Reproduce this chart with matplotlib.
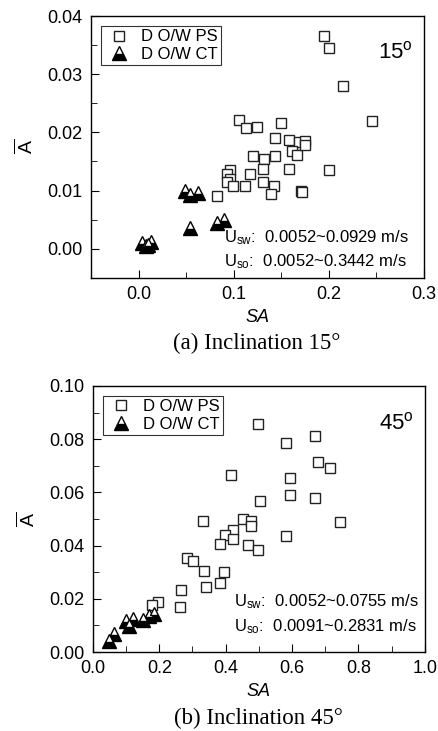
import matplotlib
matplotlib.use("Agg")
import matplotlib.pyplot as plt
from matplotlib.ticker import MultipleLocator

plt.rcParams['font.family'] = ['Liberation Sans', 'DejaVu Sans']
plt.rcParams['mathtext.fontset'] = 'custom'
plt.rcParams['mathtext.rm'] = 'Liberation Sans'
plt.rcParams['mathtext.it'] = 'Liberation Sans:italic'

# inclination 15 deg, pattern-switching (PS) points
ps15_x = [0.1056, 0.1126, 0.124, 0.150, 0.143, 0.158, 0.169, 0.161, 0.167, 0.120,
          0.132, 0.143, 0.131, 0.158, 0.096, 0.0926, 0.117, 0.096, 0.0926, 0.099,
          0.112, 0.131, 0.142, 0.139, 0.0824, 0.171,
          0.195, 0.200, 0.215, 0.245, 0.200, 0.175, 0.175, 0.172]
ps15_y = [0.0221, 0.0208, 0.0209, 0.0217, 0.0191, 0.0187, 0.0184, 0.0168, 0.0161, 0.0159,
          0.0155, 0.0159, 0.0137, 0.0137, 0.0135, 0.0128, 0.0128, 0.0119, 0.0114, 0.0107,
          0.0108, 0.0115, 0.0108, 0.0094, 0.0090, 0.0099,
          0.0365, 0.0345, 0.0280, 0.0220, 0.0135, 0.0185, 0.0178, 0.0098]

# inclination 15 deg, CT points
ct15_x = [0.004, 0.008, 0.013, 0.010, 0.049, 0.054, 0.062, 0.054, 0.082, 0.090]
ct15_y = [0.0010, 0.0004, 0.0011, 0.0006, 0.0100, 0.0092, 0.0096, 0.0036, 0.0044, 0.0049]

# inclination 45 deg
ps45_x = [0.498, 0.583, 0.670, 0.416, 0.593, 0.677, 0.715, 0.502, 0.593, 0.670,
          0.332, 0.452, 0.477, 0.477, 0.421, 0.397, 0.421, 0.382, 0.743, 0.581,
          0.467, 0.497, 0.284, 0.301, 0.334, 0.394, 0.384, 0.341, 0.266, 0.261,
          0.197, 0.179]
ps45_y = [0.0857, 0.0785, 0.0813, 0.0664, 0.0654, 0.0715, 0.0690, 0.0566, 0.0591, 0.0578,
          0.0494, 0.0501, 0.0492, 0.0473, 0.0460, 0.0441, 0.0423, 0.0407, 0.0488, 0.0438,
          0.0401, 0.0382, 0.0353, 0.0341, 0.0305, 0.0301, 0.0261, 0.0245, 0.0235, 0.0170,
          0.0187, 0.0176]

ct45_x = [0.050, 0.065, 0.099, 0.110, 0.120, 0.150, 0.170, 0.185]
ct45_y = [0.0040, 0.0068, 0.0115, 0.0097, 0.0126, 0.0121, 0.0137, 0.0143]

fig = plt.figure(figsize=(4.38, 7.31), dpi=100)
ax1 = fig.add_axes([0.208, 0.620, 0.760, 0.358])
ax2 = fig.add_axes([0.212, 0.108, 0.758, 0.364])


def draw(ax, px, py, cx, cy):
    ax.plot(px, py, 's', ms=6.5, mfc='white', mec='#222222', mew=1.0,
            ls='none', label='D O/W PS')
    ax.plot(cx, cy, '^', ms=9.5, fillstyle='bottom', mfc='black',
            mfcalt='white', mec='black', mew=1.0, ls='none', label='D O/W CT')
    ax.tick_params(direction='in', which='both', top=False, right=False,
                   labelsize=13, pad=6)
    ax.tick_params(which='major', length=6)
    ax.tick_params(which='minor', length=4)
    for s in ax.spines.values():
        s.set_linewidth(1.0)
    leg = ax.legend(loc='upper left', fontsize=12, frameon=True, fancybox=False,
                    edgecolor='black', borderpad=0.2, handletextpad=0.4,
                    labelspacing=0.15, handlelength=1.8, borderaxespad=0.6)
    leg.get_frame().set_linewidth(0.8)
    ax.set_xlabel('SA', fontstyle='italic', fontsize=13, labelpad=4)
    ax.set_ylabel(r'$\overline{\rm A}$', fontsize=14, labelpad=8)


draw(ax1, ps15_x, ps15_y, ct15_x, ct15_y)
ax1.set_xlim(-0.05, 0.3)
ax1.set_ylim(-0.005, 0.04)
ax1.xaxis.set_major_locator(MultipleLocator(0.1))
ax1.xaxis.set_minor_locator(MultipleLocator(0.05))
ax1.yaxis.set_major_locator(MultipleLocator(0.01))
ax1.yaxis.set_minor_locator(MultipleLocator(0.005))
ax1.xaxis.set_major_formatter(lambda v, p: f'{v:.1f}')
ax1.yaxis.set_major_formatter(lambda v, p: f'{v:.2f}')
ax1.text(0.915, 0.86, r'15$^{\rm o}$', transform=ax1.transAxes, fontsize=16,
         ha='center', va='center')
ax1.text(0.40, 0.155, r'U$_{\rm sw}$:  0.0052~0.0929 m/s', transform=ax1.transAxes,
         fontsize=12, va='center')
ax1.text(0.40, 0.06, r'U$_{\rm so}$:  0.0052~0.3442 m/s', transform=ax1.transAxes,
         fontsize=12, va='center')

draw(ax2, ps45_x, ps45_y, ct45_x, ct45_y)
ax2.set_xlim(0, 1.0)
ax2.set_ylim(0, 0.1)
ax2.xaxis.set_major_locator(MultipleLocator(0.2))
ax2.xaxis.set_minor_locator(MultipleLocator(0.1))
ax2.yaxis.set_major_locator(MultipleLocator(0.02))
ax2.yaxis.set_minor_locator(MultipleLocator(0.01))
ax2.xaxis.set_major_formatter(lambda v, p: f'{v:.1f}')
ax2.yaxis.set_major_formatter(lambda v, p: f'{v:.2f}')
ax2.text(0.915, 0.86, r'45$^{\rm o}$', transform=ax2.transAxes, fontsize=16,
         ha='center', va='center')
ax2.text(0.425, 0.19, r'U$_{\rm sw}$:  0.0052~0.0755 m/s', transform=ax2.transAxes,
         fontsize=12, va='center')
ax2.text(0.425, 0.095, r'U$_{\rm so}$:  0.0091~0.2831 m/s', transform=ax2.transAxes,
         fontsize=12, va='center')

fig.text(0.585, 1 - 343 / 731, '(a) Inclination 15\u00b0', family='Liberation Serif',
         fontsize=16.5, ha='center', va='center')
fig.text(0.59, 1 - 718 / 731, '(b) Inclination 45\u00b0', family='Liberation Serif',
         fontsize=16.5, ha='center', va='center')

fig.savefig('out.png', dpi=100)
